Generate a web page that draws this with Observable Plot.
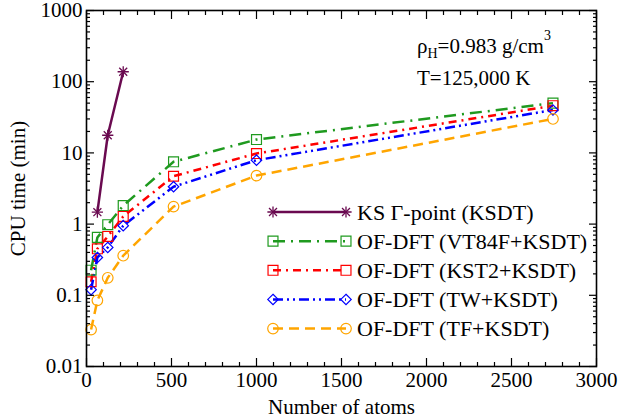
<!DOCTYPE html>
<html><head><meta charset="utf-8">
<script src="https://cdn.jsdelivr.net/npm/d3@7"></script>
<script src="https://cdn.jsdelivr.net/npm/@observablehq/plot@0.6"></script>
<style>
html,body{margin:0;padding:0;background:#fff;}
#wrap{position:relative;width:639px;height:418px;overflow:hidden;background:#fff;font-family:"Liberation Serif","Times New Roman",Times,"DejaVu Serif",serif;}
#wrap > svg{display:block}
#overlay{position:absolute;left:0;top:0;}
</style></head><body><div id="wrap"></div>
<script>
// ---------------- data ----------------
const atomsKS = [64, 125, 216];
const cpuKS = [1.47, 17.7, 138];

const atomsOF = [27, 64, 125, 216, 512, 1000, 2744];
const cpuVT84F = [0.225, 0.65, 0.98, 1.82, 7.5, 15.4, 50];
const cpuKST2  = [0.155, 0.45, 0.67, 1.28, 4.7, 9.8, 46];
const cpuTW    = [0.12, 0.34, 0.47, 0.95, 3.35, 7.9, 40];
const cpuTF    = [0.033, 0.085, 0.176, 0.36, 1.76, 4.8, 30];

const seriesNames = ["KS Γ-point (KSDT)", "OF-DFT (VT84F+KSDT)", "OF-DFT (KST2+KSDT)", "OF-DFT (TW+KSDT)", "OF-DFT (TF+KSDT)"];

const xMajorTicks = [0, 500, 1000, 1500, 2000, 2500, 3000];
const xMinorTicks = [100,200,300,400,600,700,800,900,1100,1200,1300,1400,1600,1700,1800,1900,2100,2200,2300,2400,2600,2700,2800,2900];
const yMajorTicks = [0.01, 0.1, 1, 10, 100, 1000];
const yTickLabels = ["0.01", "0.1", "1", "10", "100", "1000"];
const yMinorTicks = yMajorTicks.slice(0, -1).flatMap(d => [2,3,4,5,6,7,8,9].map(k => d * k));

const xTitle = "Number of atoms";
const yTitle = "CPU time (min)";

// ---------------- styles ----------------
const styles = [
  {color: "#6a0a50", dash: null, symbol: "star", r: 3.7},
  {color: "#1f9a1f", dash: "12,6,2,6", symbol: "square", r: 5.6},
  {color: "#ff0000", dash: "8,5,2,5", symbol: "square", r: 5.6},
  {color: "#0000ff", dash: "10,4,2,4,2,4", symbol: "diamond2", r: 4.7},
  {color: "#ffa500", dash: "10,6", symbol: "circle", r: 5.3}
];

// ---------------- tables ----------------
const seriesX = [atomsKS, atomsOF, atomsOF, atomsOF, atomsOF];
const seriesY = [cpuKS, cpuVT84F, cpuKST2, cpuTW, cpuTF];
const tables = seriesY.map((ys, i) => ys.map((v, j) => ({atoms: seriesX[i][j], cpu: v, series: seriesNames[i]})));

const font = '"Liberation Serif","Times New Roman",Times,"DejaVu Serif",serif';
const marks = [];

// lines first (behind markers)
tables.forEach((t, i) => {
  const s = styles[i];
  marks.push(Plot.line(t, {x: "atoms", y: "cpu", stroke: s.color, strokeWidth: 2.5,
    strokeDasharray: s.dash, strokeLinecap: "butt", strokeLinejoin: "round"}));
});
// markers
tables.forEach((t, i) => {
  const s = styles[i];
  if (s.symbol === "star") {
    marks.push(Plot.dot(t, {x: "atoms", y: "cpu", symbol: "plus", r: s.r, stroke: s.color, strokeWidth: 1.3}));
    marks.push(Plot.dot(t, {x: "atoms", y: "cpu", symbol: "times", r: s.r, stroke: s.color, strokeWidth: 1.3}));
  } else {
    marks.push(Plot.dot(t, {x: "atoms", y: "cpu", symbol: s.symbol, r: s.r, stroke: s.color, fill: "none", strokeWidth: 1.2}));
  }
});

// tick marks (inward) on all four sides
const tk = {stroke: "black", strokeWidth: 1.2, fill: "none", label: null};
marks.push(
  Plot.axisX(xMajorTicks, {...tk, anchor: "bottom", tickSize: -8}),
  Plot.axisX(xMinorTicks, {...tk, anchor: "bottom", tickSize: -4}),
  Plot.axisX(xMajorTicks, {...tk, anchor: "top", tickSize: -8}),
  Plot.axisX(xMinorTicks, {...tk, anchor: "top", tickSize: -4}),
  Plot.axisY(yMajorTicks, {...tk, anchor: "left", tickSize: -8}),
  Plot.axisY(yMinorTicks, {...tk, anchor: "left", tickSize: -4}),
  Plot.axisY(yMajorTicks, {...tk, anchor: "right", tickSize: -8}),
  Plot.axisY(yMinorTicks, {...tk, anchor: "right", tickSize: -4}),
  // labels
  Plot.axisX(xMajorTicks, {anchor: "bottom", tickSize: 0, tickPadding: 6, fill: "black",
    fontSize: 21, fontFamily: font, tickFormat: d => `${d}`,
    label: xTitle, labelAnchor: "center", labelOffset: 47, labelArrow: "none"}),
  Plot.axisY(yMajorTicks, {anchor: "left", tickSize: 0, tickPadding: 4, fill: "black",
    fontSize: 21, fontFamily: font, tickFormat: d => yTickLabels[yMajorTicks.indexOf(d)],
    label: yTitle, labelAnchor: "center", labelOffset: 76, labelArrow: "none"}),
  Plot.frame({stroke: "black", strokeWidth: 1.6})
);

const chart = Plot.plot({
  width: 639, height: 418,
  marginLeft: 86, marginRight: 43, marginTop: 10, marginBottom: 52,
  x: {type: "linear", domain: [0, 3000]},
  y: {type: "log", domain: [0.01, 1000]},
  style: {fontFamily: font, fontSize: "21px", color: "black", background: "white", overflow: "visible"},
  marks
});
document.getElementById("wrap").appendChild(chart);

// ---------------- overlay: annotation + legend ----------------
const ov = d3.select("#wrap").append("svg").attr("id", "overlay")
  .attr("width", 639).attr("height", 418).style("font-family", font);

const ann = ov.append("text").attr("x", 417).attr("y", 53).attr("font-size", 21).attr("fill", "black");
ann.append("tspan").text("ρ");
ann.append("tspan").attr("dy", 5).attr("font-size", 14).text("H");
ann.append("tspan").attr("dy", -5).text("=0.983 g/cm");
ann.append("tspan").attr("dy", -13).attr("font-size", 14).text("3");
ov.append("text").attr("x", 417).attr("y", 85).attr("font-size", 21).attr("fill", "black").text("T=125,000 K");

const lgX0 = 273, lgX1 = 346, lgTextX = 357, lgY0 = 212, lgDy = 29.15;
styles.forEach((s, i) => {
  const y = lgY0 + i * lgDy;
  const g = ov.append("g");
  g.append("line").attr("x1", lgX0).attr("x2", lgX1).attr("y1", y).attr("y2", y)
    .attr("stroke", s.color).attr("stroke-width", 2.5)
    .attr("stroke-dasharray", s.dash);
  const syms = s.symbol === "star" ? [d3.symbolPlus, d3.symbolTimes]
    : [{square: d3.symbolSquare, diamond2: d3.symbolDiamond2, circle: d3.symbolCircle}[s.symbol]];
  [lgX0, lgX1].forEach(x => {
    syms.forEach(sym => {
      g.append("path").attr("d", d3.symbol(sym, Math.PI * s.r * s.r)())
        .attr("transform", `translate(${x},${y})`)
        .attr("fill", "none").attr("stroke", s.color).attr("stroke-width", s.symbol === "star" ? 1.3 : 1.2);
    });
  });
  g.append("text").attr("x", lgTextX).attr("y", y + 7.5).attr("font-size", 22).attr("fill", "black")
    .text(seriesNames[i]);
});
</script></body></html>
